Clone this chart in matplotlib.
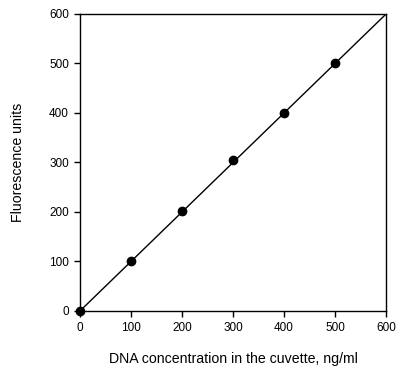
import matplotlib
matplotlib.use("Agg")
import matplotlib.pyplot as plt

conc = [0, 100, 200, 300, 400, 500]
fluor = [0, 100, 202, 305, 400, 500]
line_x = [0, 600]
line_y = [0, 600]
ticks = [0, 100, 200, 300, 400, 500, 600]

plt.rcParams['font.family'] = ['Liberation Sans', 'DejaVu Sans']
fig = plt.figure(figsize=(3.97, 3.68), dpi=100)
ax = fig.add_axes([0.2015, 0.155, 0.771, 0.807])
ax.plot(line_x, line_y, color='black', lw=1, zorder=2)
ax.plot(conc, fluor, 'o', color='black', ms=6, zorder=3, clip_on=False)
ax.set_xlim(0, 600)
ax.set_ylim(0, 600)
ax.set_xticks(ticks)
ax.set_yticks(ticks)
ax.tick_params(direction='out', length=4, width=1, labelsize=8.5, pad=4)
for s in ax.spines.values():
    s.set_linewidth(1)
ax.set_xlabel('DNA concentration in the cuvette, ng/ml', fontsize=10.2, labelpad=13)
ax.set_ylabel('Fluorescence units', fontsize=10.2, labelpad=17)
fig.savefig('out.png', dpi=100)
